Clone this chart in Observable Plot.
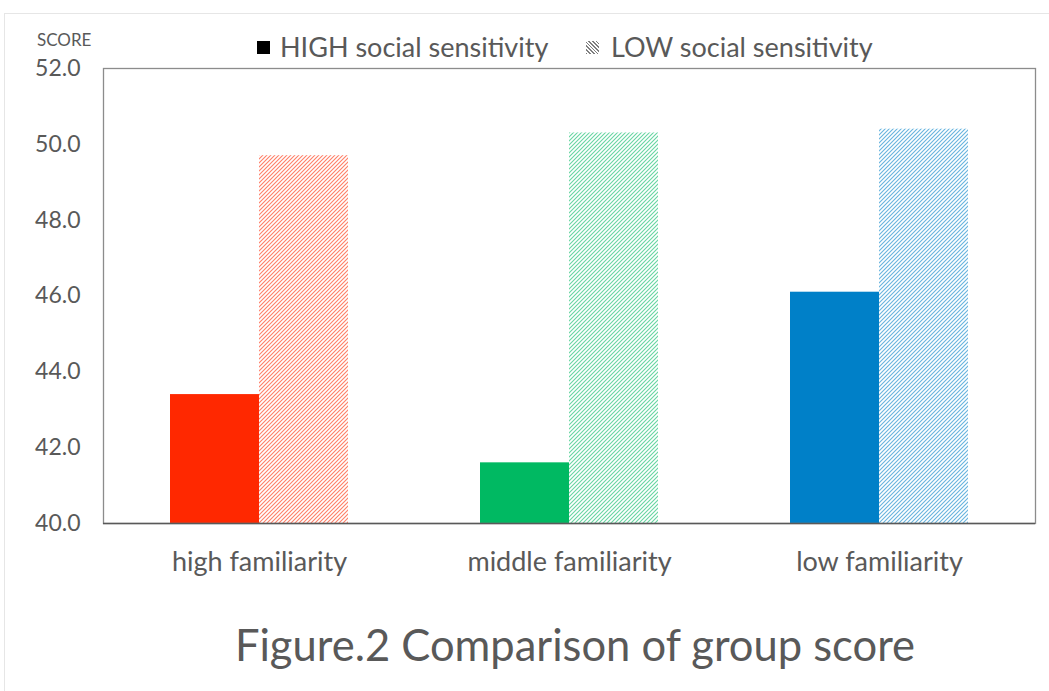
<!DOCTYPE html>
<html>
<head>
<meta charset="utf-8">
<script src="https://cdn.jsdelivr.net/npm/d3@7"></script>
<script src="https://cdn.jsdelivr.net/npm/@observablehq/plot@0.6"></script>
<style>
  html, body { margin: 0; padding: 0; background: #fff; }
  #wrap { position: relative; width: 1049px; height: 691px; overflow: hidden; font-family: Lato, "Open Sans", sans-serif; color: #595959; }
  #border { position: absolute; left: 4px; top: 13px; width: 1100px; height: 700px; border: 1px solid #e6e6e6; box-sizing: border-box; }
  #legend { position: relative; height: 50px; }
  #score { position: absolute; left: 37px; top: 29px; font-size: 17px; }
  .leg { position: absolute; top: 31px; font-size: 27px; line-height: 32px; white-space: nowrap; }
  .sw { position: absolute; width: 13px; height: 13px; }
  #chart { position: relative; }
  #title { position: absolute; left: 0; width: 1150px; top: 618px; text-align: center; font-size: 43.5px; }
</style>
</head>
<body>
<div id="wrap">
  <div id="border"></div>
  <div id="legend">
    <div id="score">SCORE</div>
  </div>
  <div id="chart"></div>
  <div id="title"></div>
</div>
<script>
// ---- data ----
const categories = ["high familiarity", "middle familiarity", "low familiarity"];
const seriesNames = ["HIGH social sensitivity", "LOW social sensitivity"];
const highValues = [43.4, 41.6, 46.1];
const lowValues = [49.7, 50.3, 50.4];
const yTicks = [40, 42, 44, 46, 48, 50, 52];
const titleText = "Figure.2 Comparison of group score";

// ---- style ----
const palette = ["#FF2800", "#00B962", "#0080C8"];
const textColor = "#595959";
const W = 1049, H = 540;
const mL = 103, mR = 14, mT = 18, mB = 67;
const padIn = 0.427;
const bw = (W - mL - mR) / categories.length * (1 - padIn);

const highData = categories.map((c, i) => ({cat: c, v: highValues[i], fill: palette[i]}));
const lowData = categories.map((c, i) => ({cat: c, v: lowValues[i], fill: `url(#hatch${i})`}));

const svg = Plot.plot({
  width: W, height: H,
  marginLeft: mL, marginRight: mR, marginTop: mT, marginBottom: mB,
  style: {fontFamily: "Lato, 'Open Sans', sans-serif", color: textColor, background: "transparent"},
  x: {domain: categories, paddingInner: padIn, paddingOuter: padIn / 2, label: null},
  y: {domain: [40, 52], label: null},
  color: {type: "identity"},
  marks: [
    Plot.barY(highData, {x: "cat", y1: 40, y2: "v", fill: "fill", insetRight: bw / 2}),
    Plot.barY(lowData, {x: "cat", y1: 40, y2: "v", fill: "fill", insetLeft: bw / 2}),
    Plot.frame({stroke: "#8c8c8c", strokeWidth: 1.3}),
    Plot.ruleY([40], {stroke: "#595959", strokeWidth: 1.5}),
    Plot.axisY({ticks: yTicks, tickFormat: d3.format(".1f"), tickSize: 0, tickPadding: 23, fontSize: 23, fill: textColor, label: null}),
    Plot.axisX({tickSize: 0, tickPadding: 28, fontSize: 27, fill: textColor, label: null})
  ]
});

// hatch patterns
const defs = d3.select(svg).insert("defs", ":first-child");
function addHatch(id, color) {
  const p = defs.append("pattern").attr("id", id).attr("patternUnits", "userSpaceOnUse")
    .attr("width", 4).attr("height", 4);
  p.append("rect").attr("width", 4).attr("height", 4).attr("fill", "#fff");
  p.append("path").attr("d", "M-1,1 l2,-2 M0,4 l4,-4 M3,5 l2,-2")
    .attr("stroke", color).attr("stroke-width", 1.1).attr("stroke-opacity", 0.6);
}
palette.forEach((c, i) => addHatch(`hatch${i}`, c));

document.getElementById("chart").appendChild(svg);

// legend
const legend = document.getElementById("legend");
const legPos = [{sw: 257, tx: 280}, {sw: 586, tx: 611}];
seriesNames.forEach((name, i) => {
  const sw = document.createElement("div");
  sw.className = "sw";
  sw.style.left = legPos[i].sw + "px";
  sw.style.top = "41px";
  if (i === 0) sw.style.background = "#000";
  else sw.style.background = "repeating-linear-gradient(45deg, #7f7f7f 0 1.2px, #fff 1.2px 2.6px)";
  legend.appendChild(sw);
  const t = document.createElement("div");
  t.className = "leg";
  t.style.left = legPos[i].tx + "px";
  t.textContent = name;
  legend.appendChild(t);
});
document.getElementById("title").textContent = titleText;
</script>
</body>
</html>
